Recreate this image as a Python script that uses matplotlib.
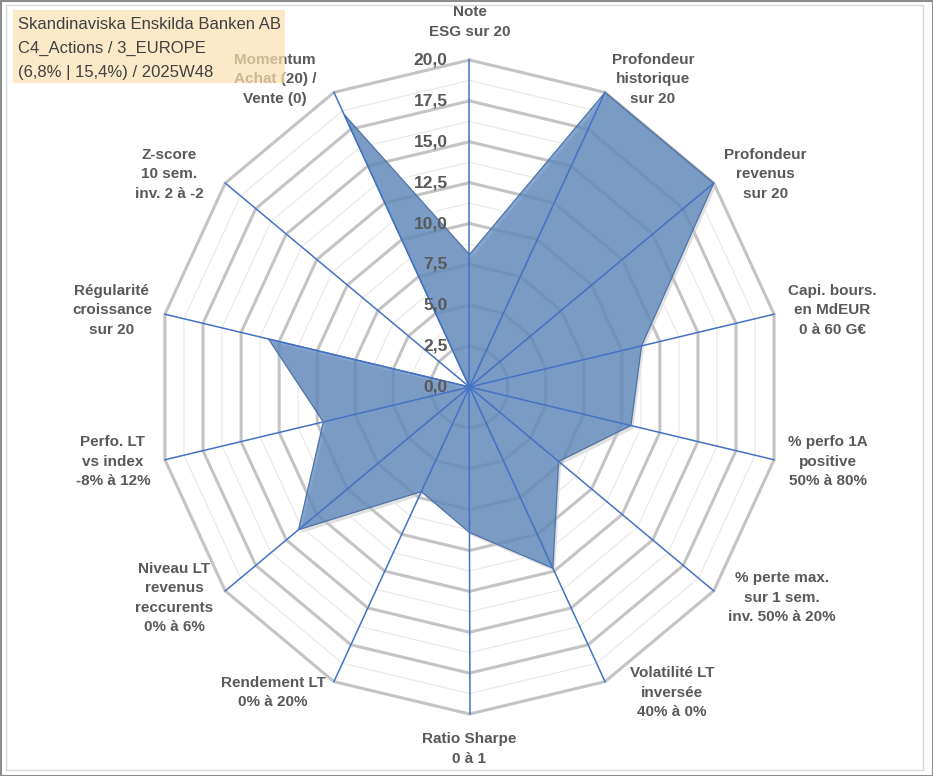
import numpy as np
import matplotlib
matplotlib.use("Agg")
import matplotlib.pyplot as plt
from matplotlib.patches import Rectangle, Polygon

matplotlib.rcParams.update({
    'font.family': ['Liberation Sans', 'DejaVu Sans'],
})

# Chart data
categories = [
    "Note\nESG sur 20",
    "Profondeur\nhistorique\nsur 20",
    "Profondeur\nrevenus\nsur 20",
    "Capi. bours.\nen MdEUR\n0 à 60 G€",
    "% perfo 1A\npositive\n50% à 80%",
    "% perte max.\nsur 1 sem.\ninv. 50% à 20%",
    "Volatilité LT\ninversée\n40% à 0%",
    "Ratio Sharpe\n0 à 1",
    "Rendement LT\n0% à 20%",
    "Niveau LT\nrevenus\nreccurents\n0% à 6%",
    "Perfo. LT\nvs index\n-8% à 12%",
    "Régularité\ncroissance\nsur 20",
    "Z-score\n10 sem.\ninv. 2 à -2",
    "Momentum\nAchat (20) /\nVente (0)",
]
values = [8.1, 20.0, 20.0, 11.3, 10.6, 7.3, 12.3, 8.9, 7.1, 14.0, 9.6, 13.2, 0.0, 18.5]
ticks = [0.0, 2.5, 5.0, 7.5, 10.0, 12.5, 15.0, 17.5, 20.0]
title_lines = ["Skandinaviska Enskilda Banken AB",
               "C4_Actions / 3_EUROPE",
               "(6,8% | 15,4%) / 2025W48"]

# label offsets from axis end, in pixels (layout only)
label_off = [(0, 38), (48, 13), (52, 9), (58, 4), (54, -2), (68, -7), (67, -11),
             (0, -35), (-61, -11), (-51, -7), (-52, -2), (-53, 4), (-56, 9), (-59, 13)]

W, H = 933, 776
fig = plt.figure(figsize=(W / 100, H / 100), dpi=100)
ax = fig.add_axes([0, 0, 1, 1])
# pixel scale: 15.62 px per unit horizontally, 16.35 vertically, centre at (469.5, 387)
sx, sy, cx, cy = 15.62, 16.35, 469.5, 387
ax.set_xlim(-cx / sx, (W - cx) / sx)
ax.set_ylim(-(H - cy) / sy, cy / sy)
ax.axis('off')

n = len(categories)
ang = np.arange(n) * 2 * np.pi / n
ux, uy = np.sin(ang), np.cos(ang)
rmax = ticks[-1]

def ring(r):
    return np.append(r * ux, r * ux[0]), np.append(r * uy, r * uy[0])

# minor rings
for r in np.arange(1.25, rmax, 2.5):
    x, y = ring(r)
    ax.plot(x, y, color='#E8E8E8', lw=0.8, zorder=1)
# major rings
for r in ticks[1:]:
    x, y = ring(r)
    ax.plot(x, y, color='#C4C4C4', lw=2.2, zorder=1.5, solid_joinstyle='miter')

# shadow + filled series
v = np.array(values)
px, py = v * ux, v * uy
shadow = Polygon(np.column_stack([px + 0.15, py - 0.2]), closed=True,
                 facecolor='#000000', alpha=0.12, edgecolor='none', zorder=0.5)
ax.add_patch(shadow)
ax.add_patch(Polygon(np.column_stack([px, py]), closed=True, facecolor='#4A7BB7',
                     alpha=0.68, edgecolor='none', zorder=2))
ax.add_patch(Polygon(np.column_stack([px, py]), closed=True, facecolor='none',
                     edgecolor='#4F73A8', lw=0.9, zorder=2.1))

# radial axis lines
for i in range(n):
    ax.plot([0, rmax * ux[i]], [0, rmax * uy[i]], color='#4472C4', lw=1.1, zorder=3)

# tick labels
for t in ticks:
    ax.text(-1.4, t, f"{t:.1f}".replace('.', ','), ha='right', va='center',
            fontsize=12.5, fontweight='bold', color='#595959', zorder=4)

# category labels
for i, lab in enumerate(categories):
    ax.annotate(lab, xy=(rmax * ux[i], rmax * uy[i]), xytext=label_off[i],
                textcoords='offset pixels', ha='center', va='center',
                multialignment='center', fontsize=11, fontweight='bold',
                color='#595959', linespacing=1.5, zorder=4)

# title box (drawn over the Momentum label)
fig.patches.append(Rectangle((13 / W, 1 - 83 / H), 272 / W, 73 / H, transform=fig.transFigure,
                             facecolor='#FBE1B0', alpha=0.7, edgecolor='none', zorder=5))
for k, line in enumerate(title_lines):
    fig.text(18 / W, 1 - (24.5 + k * 24) / H, line, ha='left', va='center',
             fontsize=12, color='#404040', zorder=6)

# frame
fig.patches.append(Rectangle((6 / W, 1 - 770 / H), 917 / W, 765 / H, transform=fig.transFigure,
                             facecolor='none', edgecolor='#D9D9D9', lw=1, zorder=0))
fig.patches.append(Rectangle((0.5 / W, 0.5 / H), 1 - 1 / W, 1 - 1 / H, transform=fig.transFigure,
                             facecolor='none', edgecolor='#8C8C8C', lw=1.5, zorder=0))

fig.savefig("out.png", dpi=100)
